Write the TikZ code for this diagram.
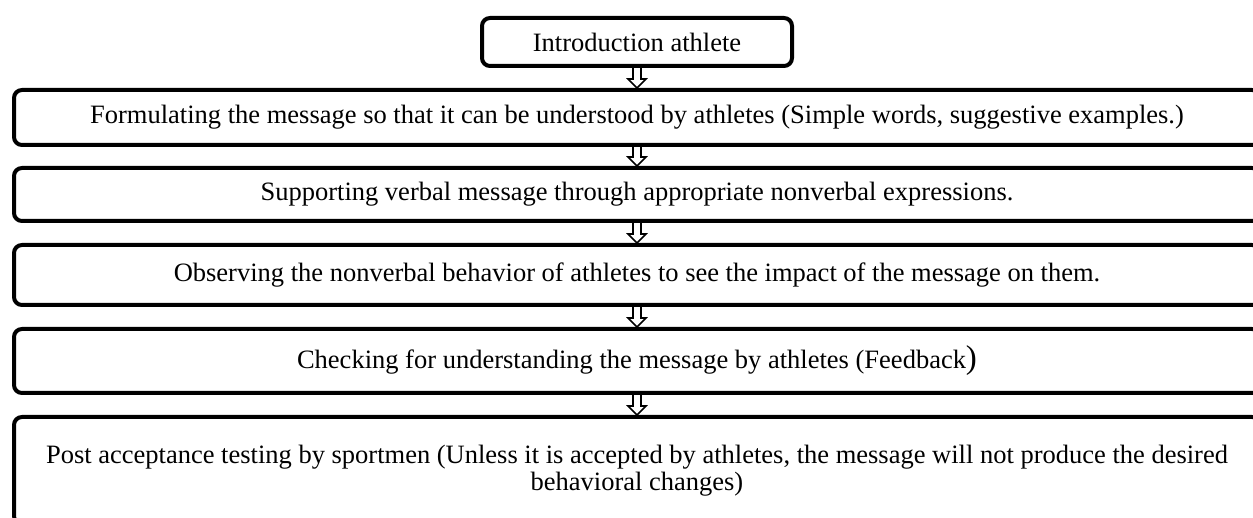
\documentclass[tikz,border=0pt]{standalone}
\usepackage{fontspec}
\setmainfont{Liberation Serif}
\usetikzlibrary{calc}
\tikzset{
  stepbox/.style={draw, line width=4pt, rounded corners=8pt, align=center,
    font=\fontsize{26.5}{27}\selectfont, inner sep=0pt, minimum width=1246},
  harrow/.style={draw, line width=1.6pt, line join=miter}
}
\newcommand\flowarrow[2]{%
  \draw[harrow] ($(#1.south)+(-4,0)$) -- ($(#2.north)+(-4,9)$) -- ($(#2.north)+(-9,9)$)
    -- (#2.north) -- ($(#2.north)+(9,9)$) -- ($(#2.north)+(4,9)$) -- ($(#1.south)+(4,0)$);}
\begin{document}
\begin{tikzpicture}[x=1pt,y=1pt]
\useasboundingbox (0,0) rectangle (1253,-518);
\clip (0,0) rectangle (1253,-518);
\fill[white] (0,0) rectangle (1253,-518);
\node[stepbox, minimum width=310, minimum height=48] (b1) at (637,-42) {Introduction athlete};
\node[stepbox, minimum height=55] (b2) at (637,-117.5) {Formulating the message so that it can be understood by athletes (Simple words, suggestive examples.)};
\node[stepbox, minimum height=53] (b3) at (637,-194.5) {Supporting verbal message through appropriate nonverbal expressions.};
\node[stepbox, minimum height=60] (b4) at (637,-275) {Observing the nonverbal behavior of athletes to see the impact of the message on them.};
\node[stepbox, minimum height=64] (b5) at (637,-361) {Checking for understanding the message by athletes (Feedback{\fontsize{33}{33}\selectfont )}};
\node[stepbox, minimum height=107] (b6) at (637,-470.5) {Post acceptance testing by sportmen (Unless it is accepted by athletes, the message will not produce the desired\\behavioral changes)};
\flowarrow{b1}{b2}
\flowarrow{b2}{b3}
\flowarrow{b3}{b4}
\flowarrow{b4}{b5}
\flowarrow{b5}{b6}
\end{tikzpicture}
\end{document}
